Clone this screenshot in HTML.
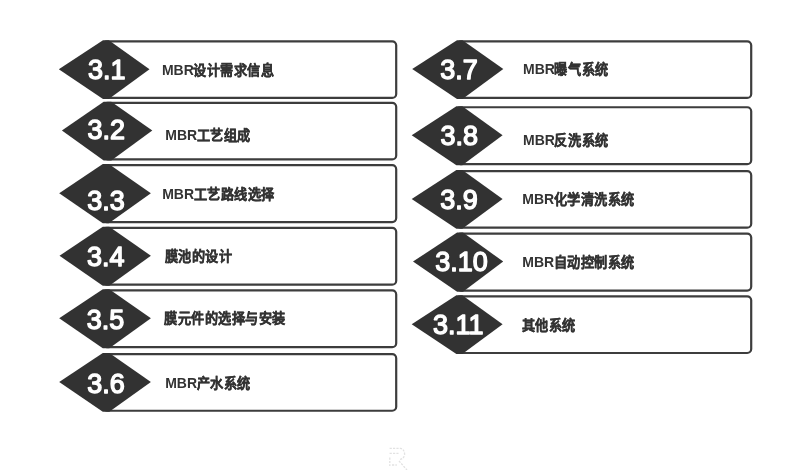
<!DOCTYPE html>
<html lang="zh-CN"><head><meta charset="utf-8">
<style>
html,body{margin:0;padding:0;background:#fff;width:788px;height:470px;overflow:hidden}
svg{display:block;filter:blur(0.35px)}
.n{font-family:"Liberation Sans",sans-serif;font-weight:normal;font-size:28.4px;fill:#fff;stroke:#fff;stroke-width:1.45px;stroke-linejoin:round}
.l{font-family:"Liberation Sans",sans-serif;font-weight:bold;font-size:14px;fill:#333;stroke:#333;stroke-width:0.35px}
.m{font-family:"Liberation Sans",sans-serif;font-weight:bold;font-size:14px;fill:#333}
</style></head><body>
<svg width="788" height="470" viewBox="0 0 788 470">
<rect x="0" y="0" width="788" height="470" fill="#fff"/>
<rect x="103" y="41.3" width="293.2" height="56.650000000000006" rx="4" ry="4" fill="#fff" stroke="#3d3d3d" stroke-width="2.2"/>
<polygon points="58.8,69.125 103,40.199999999999996 108.8,40.199999999999996 149.5,69.125 108.8,99.05 103,99.05" fill="#323232"/>
<text class="n" transform="translate(106.80,79.44) scale(0.95,1)" text-anchor="middle">3.1</text>
<text class="m" x="161.90" y="75.45">MBR</text>
<text class="l" transform="translate(193.20,75.45) scale(0.9400,1)">设计需求信息</text>
<rect x="103.7" y="102.8" width="292.5" height="56.60000000000001" rx="4" ry="4" fill="#fff" stroke="#3d3d3d" stroke-width="2.2"/>
<polygon points="61.9,130.6 103.7,101.7 111.3,101.7 152.3,130.6 111.3,160.5 103.7,160.5" fill="#323232"/>
<text class="n" transform="translate(106.30,139.24) scale(0.95,1)" text-anchor="middle">3.2</text>
<text class="m" x="165.30" y="140.30">MBR</text>
<text class="l" transform="translate(196.60,140.30) scale(0.9400,1)">工艺组成</text>
<rect x="102.8" y="165.2" width="293.4" height="56.900000000000006" rx="4" ry="4" fill="#fff" stroke="#3d3d3d" stroke-width="2.2"/>
<polygon points="59.2,193.14999999999998 102.8,164.1 108.8,164.1 150.9,193.14999999999998 108.8,223.2 102.8,223.2" fill="#323232"/>
<text class="n" transform="translate(105.90,209.54) scale(0.95,1)" text-anchor="middle">3.3</text>
<text class="m" x="162.20" y="198.60">MBR</text>
<text class="l" transform="translate(193.50,198.60) scale(0.9400,1)">工艺路线选择</text>
<rect x="102.8" y="227.8" width="293.4" height="56.89999999999998" rx="4" ry="4" fill="#fff" stroke="#3d3d3d" stroke-width="2.2"/>
<polygon points="59.5,255.75 102.8,226.70000000000002 109.3,226.70000000000002 150.9,255.75 109.3,285.8 102.8,285.8" fill="#323232"/>
<text class="n" transform="translate(105.70,265.84) scale(0.95,1)" text-anchor="middle">3.4</text>
<text class="l" transform="translate(164.60,261.20) scale(0.9400,1)">膜池的设计</text>
<rect x="102.8" y="290.4" width="293.4" height="56.80000000000001" rx="4" ry="4" fill="#fff" stroke="#3d3d3d" stroke-width="2.2"/>
<polygon points="59.2,318.29999999999995 102.8,289.29999999999995 109.3,289.29999999999995 150.9,318.29999999999995 109.3,348.3 102.8,348.3" fill="#323232"/>
<text class="n" transform="translate(105.50,328.64) scale(0.95,1)" text-anchor="middle">3.5</text>
<text class="l" transform="translate(164.00,323.45) scale(0.9400,1)">膜元件的选择与安装</text>
<rect x="102.8" y="354.2" width="293.4" height="56.55000000000001" rx="4" ry="4" fill="#fff" stroke="#3d3d3d" stroke-width="2.2"/>
<polygon points="59.2,381.975 102.8,353.09999999999997 109.3,353.09999999999997 150.9,381.975 109.3,411.85 102.8,411.85" fill="#323232"/>
<text class="n" transform="translate(105.90,392.54) scale(0.95,1)" text-anchor="middle">3.6</text>
<text class="m" x="165.20" y="387.60">MBR</text>
<text class="l" transform="translate(196.50,387.60) scale(0.9400,1)">产水系统</text>
<rect x="457" y="41.3" width="294.20000000000005" height="56.60000000000001" rx="4" ry="4" fill="#fff" stroke="#3d3d3d" stroke-width="2.2"/>
<polygon points="412.2,69.1 457,40.199999999999996 462.5,40.199999999999996 503.3,69.1 462.5,99.0 457,99.0" fill="#323232"/>
<text class="n" transform="translate(458.90,78.74) scale(0.95,1)" text-anchor="middle">3.7</text>
<text class="m" x="523.10" y="74.45">MBR</text>
<text class="l" transform="translate(554.40,74.45) scale(0.9400,1)">曝气系统</text>
<rect x="456.4" y="107.25" width="294.80000000000007" height="56.94999999999999" rx="4" ry="4" fill="#fff" stroke="#3d3d3d" stroke-width="2.2"/>
<polygon points="411.7,135.225 456.4,106.15 462.3,106.15 502.6,135.225 462.3,165.29999999999998 456.4,165.29999999999998" fill="#323232"/>
<text class="n" transform="translate(459.30,144.74) scale(0.95,1)" text-anchor="middle">3.8</text>
<text class="m" x="523.10" y="145.45">MBR</text>
<text class="l" transform="translate(554.40,145.45) scale(0.9400,1)">反洗系统</text>
<rect x="456.4" y="171.2" width="294.80000000000007" height="56.5" rx="4" ry="4" fill="#fff" stroke="#3d3d3d" stroke-width="2.2"/>
<polygon points="411.7,198.95 456.4,170.1 462.3,170.1 502.6,198.95 462.3,228.79999999999998 456.4,228.79999999999998" fill="#323232"/>
<text class="n" transform="translate(458.90,209.34) scale(0.95,1)" text-anchor="middle">3.9</text>
<text class="m" x="522.30" y="204.45">MBR</text>
<text class="l" transform="translate(553.60,204.45) scale(0.9400,1)">化学清洗系统</text>
<rect x="457.1" y="233.6" width="294.1" height="57.00000000000003" rx="4" ry="4" fill="#fff" stroke="#3d3d3d" stroke-width="2.2"/>
<polygon points="413.0,261.6 457.1,232.5 463,232.5 503.2,261.6 463,291.70000000000005 457.1,291.70000000000005" fill="#323232"/>
<text class="n" transform="translate(461.60,271.24) scale(0.95,1)" text-anchor="middle">3.10</text>
<text class="m" x="522.30" y="267.45">MBR</text>
<text class="l" transform="translate(553.60,267.45) scale(0.9400,1)">自动控制系统</text>
<rect x="456.4" y="296.3" width="294.80000000000007" height="56.69999999999999" rx="4" ry="4" fill="#fff" stroke="#3d3d3d" stroke-width="2.2"/>
<polygon points="411.7,324.15 456.4,295.2 462.3,295.2 502.6,324.15 462.3,354.1 456.4,354.1" fill="#323232"/>
<text class="n" transform="translate(458.30,333.64) scale(0.95,1)" text-anchor="middle">3.11</text>
<text class="l" transform="translate(521.80,329.60) scale(0.9400,1)">其他系统</text>
<g fill="none" stroke="#e2e2e2" stroke-width="1.3" stroke-dasharray="2.2 1.2">
<path d="M389.6,448.3 H400.5 Q404.6,449.5 404.6,454.5 Q404,458.8 399.5,459.6"/>
<path d="M389.6,453.4 H398.5"/>
<path d="M389.8,457.5 V466"/>
<path d="M392,465 H396.8"/>
<path d="M399,461 L407,470"/>
</g>
</svg>
</body></html>
